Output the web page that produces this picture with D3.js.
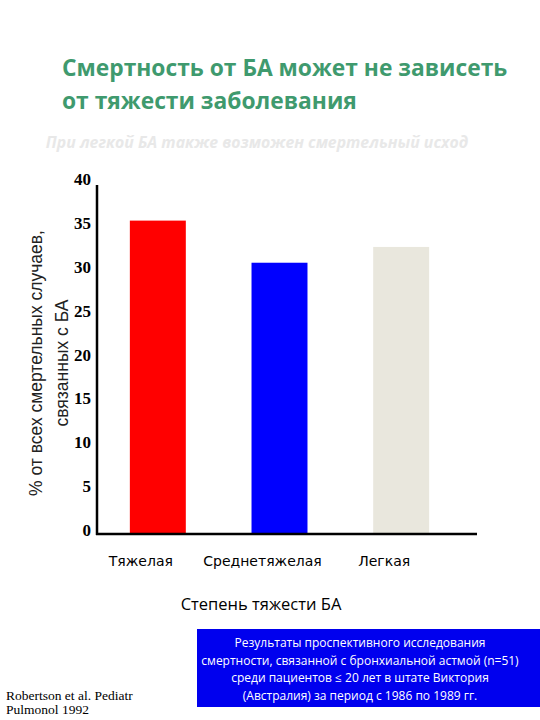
<!DOCTYPE html>
<html>
<head>
<meta charset="utf-8">
<script src="https://cdn.jsdelivr.net/npm/d3@7"></script>
<style>
  body { margin: 0; background: #fff; }
  svg { display: block; }
</style>
</head>
<body>
<div id="chart"></div>
<script>
// data
var categories = ["Тяжелая", "Среднетяжелая", "Легкая"];
var values = [35.6, 30.8, 32.6];
var barColors = ["#ff0000", "#0000ff", "#e9e7dd"];
var yTicks = [0, 5, 10, 15, 20, 25, 30, 35, 40];

var svg_width = 540;
var svg_height = 720;
var mysvg = d3.select("#chart")
  .append("svg")
  .attr("width", svg_width)
  .attr("height", svg_height);

// title
var titleLines = ["Смертность от БА может не зависеть", "от тяжести заболевания"];
mysvg.selectAll("text.title")
  .data(titleLines)
  .enter()
  .append("text")
  .attr("class", "title")
  .attr("x", 62)
  .attr("y", function(d, i){ return 76 + i*33; })
  .attr("font-family", "Open Sans")
  .attr("font-weight", "bold")
  .attr("font-size", 22.8)
  .attr("fill", "#3f9a6e")
  .text(function(d){ return d; });

mysvg.append("text")
  .attr("x", 257)
  .attr("y", 148)
  .attr("text-anchor", "middle")
  .attr("font-family", "Open Sans")
  .attr("font-style", "italic")
  .attr("font-weight", "bold")
  .attr("font-size", 15.8)
  .attr("fill", "#e8e8e8")
  .text("При легкой БА также возможен смертельный исход");

// scales
var y = d3.scaleLinear().domain([0, 40]).range([533, 182]);
var x = d3.scaleBand()
  .domain(categories)
  .range([97, 462])
  .paddingInner(0.54)
  .paddingOuter(0.27);

// bars
mysvg.selectAll("rect.bar")
  .data(values)
  .enter()
  .append("rect")
  .attr("class", "bar")
  .attr("x", function(d, i){ return x(categories[i]); })
  .attr("width", x.bandwidth())
  .attr("y", function(d){ return y(d); })
  .attr("height", function(d){ return y(0) - y(d); })
  .attr("fill", function(d, i){ return barColors[i]; });

// axes lines
mysvg.append("line")
  .attr("x1", 97).attr("x2", 97)
  .attr("y1", 185).attr("y2", 535)
  .attr("stroke", "#000").attr("stroke-width", 2.5);
mysvg.append("line")
  .attr("x1", 96).attr("x2", 477)
  .attr("y1", 534).attr("y2", 534)
  .attr("stroke", "#000").attr("stroke-width", 2.5);

// y tick labels
mysvg.selectAll("text.ytick")
  .data(yTicks)
  .enter()
  .append("text")
  .attr("class", "ytick")
  .attr("x", 91)
  .attr("y", function(d){ return y(d) + 3; })
  .attr("text-anchor", "end")
  .attr("font-family", "Liberation Serif")
  .attr("font-weight", "bold")
  .attr("font-size", 17)
  .attr("fill", "#000")
  .text(function(d){ return d; });

// y axis title
var yTitle = ["%  от всех смертельных случаев,", "связанных с БА"];
mysvg.selectAll("text.ytitle")
  .data(yTitle)
  .enter()
  .append("text")
  .attr("class", "ytitle")
  .attr("transform", function(d, i){ return "translate(" + (42 + i*26) + ",363) rotate(-90)"; })
  .attr("text-anchor", "middle")
  .attr("font-family", "Liberation Sans")
  .attr("font-size", 17.5)
  .attr("fill", "#222")
  .text(function(d){ return d; });

// category labels
mysvg.selectAll("text.cat")
  .data(categories)
  .enter()
  .append("text")
  .attr("class", "cat")
  .attr("x", function(d){ return x(d) + x.bandwidth()/2 - 17; })
  .attr("y", 566)
  .attr("text-anchor", "middle")
  .attr("font-family", "DejaVu Sans")
  .attr("font-size", 14)
  .attr("fill", "#000")
  .text(function(d){ return d; });

mysvg.append("text")
  .attr("x", 261)
  .attr("y", 610)
  .attr("text-anchor", "middle")
  .attr("font-family", "Open Sans")
  .attr("font-size", 16.5)
  .attr("fill", "#000")
  .text("Степень тяжести БА");

// note box
mysvg.append("rect")
  .attr("x", 197).attr("y", 629)
  .attr("width", 343).attr("height", 78)
  .attr("fill", "#0000ee");
var noteLines = [
  "Результаты проспективного исследования",
  "смертности, связанной с бронхиальной астмой (n=51)",
  "среди пациентов \u2264 20 лет в штате Виктория",
  "(Австралия) за период с 1986 по 1989 гг."
];
mysvg.selectAll("text.note")
  .data(noteLines)
  .enter()
  .append("text")
  .attr("class", "note")
  .attr("x", 360)
  .attr("y", function(d, i){ return 647 + i*17.5; })
  .attr("text-anchor", "middle")
  .attr("font-family", "Open Sans")
  .attr("font-size", 12)
  .attr("fill", "#fff")
  .text(function(d){ return d; });

// citation
var cite = ["Robertson et al.  Pediatr", "Pulmonol 1992"];
mysvg.selectAll("text.cite")
  .data(cite)
  .enter()
  .append("text")
  .attr("class", "cite")
  .attr("x", 6)
  .attr("y", function(d, i){ return 700 + i*13.5; })
  .attr("font-family", "Liberation Serif")
  .attr("font-size", 13.5)
  .attr("fill", "#000")
  .text(function(d){ return d; });
</script>
</body>
</html>
